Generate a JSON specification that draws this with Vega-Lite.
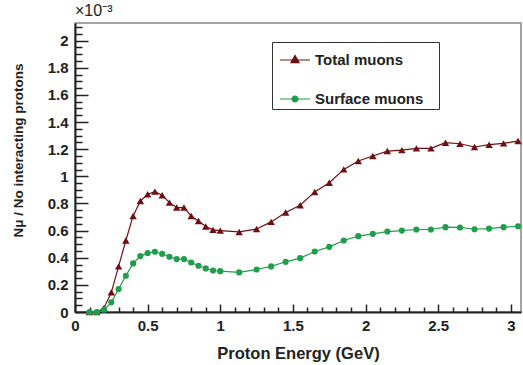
{
  "$schema": "https://vega.github.io/schema/vega-lite/v6.json",
  "autosize": "none",
  "padding": {"left": 75, "top": 23, "right": 2, "bottom": 53},
  "width": 446,
  "height": 289,
  "title": {"text": "×10⁻³", "anchor": "start", "frame": "group", "font": "Liberation Sans", "fontSize": 16, "fontWeight": "normal", "color": "#222", "offset": 1},
  "config": {
    "view": {"stroke": "#888", "strokeWidth": 1.5},
    "font": "Liberation Sans",
    "axis": {"labelFont": "Liberation Sans", "titleFont": "Liberation Sans", "labelFontWeight": "bold", "titleFontWeight": "bold", "labelFontSize": 15, "titleFontSize": 15, "labelColor": "#222", "titleColor": "#222", "domainColor": "#222", "domainWidth": 2, "tickColor": "#222", "tickWidth": 1.5, "grid": false}
  },
  "data": {"values": [
    {"e": 0.1, "v": 0, "s": "Total muons"},
    {"e": 0.15, "v": 0, "s": "Total muons"},
    {"e": 0.2, "v": 0.03, "s": "Total muons"},
    {"e": 0.25, "v": 0.145, "s": "Total muons"},
    {"e": 0.3, "v": 0.336, "s": "Total muons"},
    {"e": 0.35, "v": 0.527, "s": "Total muons"},
    {"e": 0.4, "v": 0.708, "s": "Total muons"},
    {"e": 0.45, "v": 0.818, "s": "Total muons"},
    {"e": 0.5, "v": 0.868, "s": "Total muons"},
    {"e": 0.55, "v": 0.887, "s": "Total muons"},
    {"e": 0.6, "v": 0.86, "s": "Total muons"},
    {"e": 0.65, "v": 0.806, "s": "Total muons"},
    {"e": 0.7, "v": 0.77, "s": "Total muons"},
    {"e": 0.75, "v": 0.77, "s": "Total muons"},
    {"e": 0.8, "v": 0.708, "s": "Total muons"},
    {"e": 0.85, "v": 0.671, "s": "Total muons"},
    {"e": 0.9, "v": 0.63, "s": "Total muons"},
    {"e": 0.95, "v": 0.605, "s": "Total muons"},
    {"e": 1.0, "v": 0.6, "s": "Total muons"},
    {"e": 1.13, "v": 0.59, "s": "Total muons"},
    {"e": 1.25, "v": 0.612, "s": "Total muons"},
    {"e": 1.35, "v": 0.664, "s": "Total muons"},
    {"e": 1.45, "v": 0.733, "s": "Total muons"},
    {"e": 1.55, "v": 0.787, "s": "Total muons"},
    {"e": 1.65, "v": 0.885, "s": "Total muons"},
    {"e": 1.75, "v": 0.953, "s": "Total muons"},
    {"e": 1.85, "v": 1.051, "s": "Total muons"},
    {"e": 1.95, "v": 1.113, "s": "Total muons"},
    {"e": 2.05, "v": 1.15, "s": "Total muons"},
    {"e": 2.15, "v": 1.186, "s": "Total muons"},
    {"e": 2.25, "v": 1.193, "s": "Total muons"},
    {"e": 2.35, "v": 1.206, "s": "Total muons"},
    {"e": 2.45, "v": 1.206, "s": "Total muons"},
    {"e": 2.55, "v": 1.248, "s": "Total muons"},
    {"e": 2.65, "v": 1.24, "s": "Total muons"},
    {"e": 2.75, "v": 1.216, "s": "Total muons"},
    {"e": 2.85, "v": 1.233, "s": "Total muons"},
    {"e": 2.95, "v": 1.243, "s": "Total muons"},
    {"e": 3.05, "v": 1.26, "s": "Total muons"},
    {"e": 0.1, "v": 0, "s": "Surface muons"},
    {"e": 0.15, "v": 0, "s": "Surface muons"},
    {"e": 0.2, "v": 0.017, "s": "Surface muons"},
    {"e": 0.25, "v": 0.071, "s": "Surface muons"},
    {"e": 0.3, "v": 0.169, "s": "Surface muons"},
    {"e": 0.35, "v": 0.267, "s": "Surface muons"},
    {"e": 0.4, "v": 0.358, "s": "Surface muons"},
    {"e": 0.45, "v": 0.412, "s": "Surface muons"},
    {"e": 0.5, "v": 0.434, "s": "Surface muons"},
    {"e": 0.55, "v": 0.444, "s": "Surface muons"},
    {"e": 0.6, "v": 0.429, "s": "Surface muons"},
    {"e": 0.65, "v": 0.407, "s": "Surface muons"},
    {"e": 0.7, "v": 0.39, "s": "Surface muons"},
    {"e": 0.75, "v": 0.39, "s": "Surface muons"},
    {"e": 0.8, "v": 0.365, "s": "Surface muons"},
    {"e": 0.85, "v": 0.341, "s": "Surface muons"},
    {"e": 0.9, "v": 0.321, "s": "Surface muons"},
    {"e": 0.95, "v": 0.306, "s": "Surface muons"},
    {"e": 1.0, "v": 0.301, "s": "Surface muons"},
    {"e": 1.13, "v": 0.292, "s": "Surface muons"},
    {"e": 1.25, "v": 0.313, "s": "Surface muons"},
    {"e": 1.35, "v": 0.336, "s": "Surface muons"},
    {"e": 1.45, "v": 0.37, "s": "Surface muons"},
    {"e": 1.55, "v": 0.397, "s": "Surface muons"},
    {"e": 1.65, "v": 0.446, "s": "Surface muons"},
    {"e": 1.75, "v": 0.48, "s": "Surface muons"},
    {"e": 1.85, "v": 0.527, "s": "Surface muons"},
    {"e": 1.95, "v": 0.559, "s": "Surface muons"},
    {"e": 2.05, "v": 0.576, "s": "Surface muons"},
    {"e": 2.15, "v": 0.593, "s": "Surface muons"},
    {"e": 2.25, "v": 0.6, "s": "Surface muons"},
    {"e": 2.35, "v": 0.608, "s": "Surface muons"},
    {"e": 2.45, "v": 0.608, "s": "Surface muons"},
    {"e": 2.55, "v": 0.625, "s": "Surface muons"},
    {"e": 2.65, "v": 0.623, "s": "Surface muons"},
    {"e": 2.75, "v": 0.61, "s": "Surface muons"},
    {"e": 2.85, "v": 0.615, "s": "Surface muons"},
    {"e": 2.95, "v": 0.625, "s": "Surface muons"},
    {"e": 3.05, "v": 0.632, "s": "Surface muons"}
  ]},
  "encoding": {
    "x": {"field": "e", "type": "quantitative",
      "scale": {"domain": [0, 3.07], "nice": false, "zero": false},
      "axis": {"title": "Proton Energy (GeV)", "titleFontSize": 16.5, "values": [0,0.1,0.2,0.3,0.4,0.5,0.6,0.7,0.8,0.9,1,1.1,1.2,1.3,1.4,1.5,1.6,1.7,1.8,1.9,2,2.1,2.2,2.3,2.4,2.5,2.6,2.7,2.8,2.9,3],
        "format": ".1~f",
        "labelExpr": "abs(datum.value*2-round(datum.value*2))<0.001 ? datum.label : ''",
        "tickSize": {"condition": {"test": "abs(datum.value*2-round(datum.value*2))<0.001", "value": -8}, "value": -5},
        "labelPadding": 14, "titlePadding": 9, "labelFlush": false, "labelOverlap": false}
    },
    "y": {"field": "v", "type": "quantitative",
      "scale": {"domain": [0, 2.13], "nice": false},
      "axis": {"title": "Nμ / No interacting protons", "titleFontSize": 13.5, "titleY": 127,
        "values": [0,0.05,0.1,0.15,0.2,0.25,0.3,0.35,0.4,0.45,0.5,0.55,0.6,0.65,0.7,0.75,0.8,0.85,0.9,0.95,1,1.05,1.1,1.15,1.2,1.25,1.3,1.35,1.4,1.45,1.5,1.55,1.6,1.65,1.7,1.75,1.8,1.85,1.9,1.95,2,2.05,2.1],
        "format": ".1~f",
        "labelExpr": "abs(datum.value*5-round(datum.value*5))<0.001 ? datum.label : ''",
        "tickSize": {"condition": {"test": "abs(datum.value*5-round(datum.value*5))<0.001", "value": -13}, "value": -7},
        "labelPadding": 20, "titlePadding": 22, "labelFlush": false, "labelOverlap": false}
    },
    "color": {"field": "s", "type": "nominal",
      "scale": {"domain": ["Total muons", "Surface muons"], "range": ["#6e0f14", "#1f9e4c"]},
      "legend": {"title": " ", "titleOrient": "right", "titlePadding": 14, "titleFontSize": 14,
        "orient": "none", "legendX": 197, "legendY": 19,
        "strokeColor": "#333", "fillColor": "white", "padding": 2,
        "symbolSize": 225, "symbolOffset": 5, "rowPadding": 15, "labelOffset": 4,
        "labelFont": "Liberation Sans", "labelFontWeight": "bold", "labelFontSize": 15, "labelColor": "#222",
        "encode": {"symbols": {"update": {
          "shape": {"signal": "datum.value == 'Total muons' ? 'M-1,0H1M-0.27,0.17L0,-0.3L0.27,0.17Z' : 'M-1,0H1M-0.2,0A0.2,0.2 0 1,0 0.2,0A0.2,0.2 0 1,0 -0.2,0Z'"},
          "size": {"value": 900},
          "stroke": {"scale": "color", "field": "value"},
          "fill": {"scale": "color", "field": "value"},
          "strokeWidth": {"value": 1.2},
          "opacity": {"value": 1}
        }}}}}
  },
  "layer": [
    {"mark": {"type": "line", "strokeWidth": 1.2, "clip": false}},
    {"transform": [{"filter": "datum.s == 'Total muons'"}],
     "mark": {"type": "point", "filled": true, "opacity": 1, "clip": false, "shape": "triangle-up", "size": 55}},
    {"transform": [{"filter": "datum.s == 'Surface muons'"}],
     "mark": {"type": "point", "filled": true, "opacity": 1, "clip": false, "shape": "circle", "size": 38}}
  ]
}
